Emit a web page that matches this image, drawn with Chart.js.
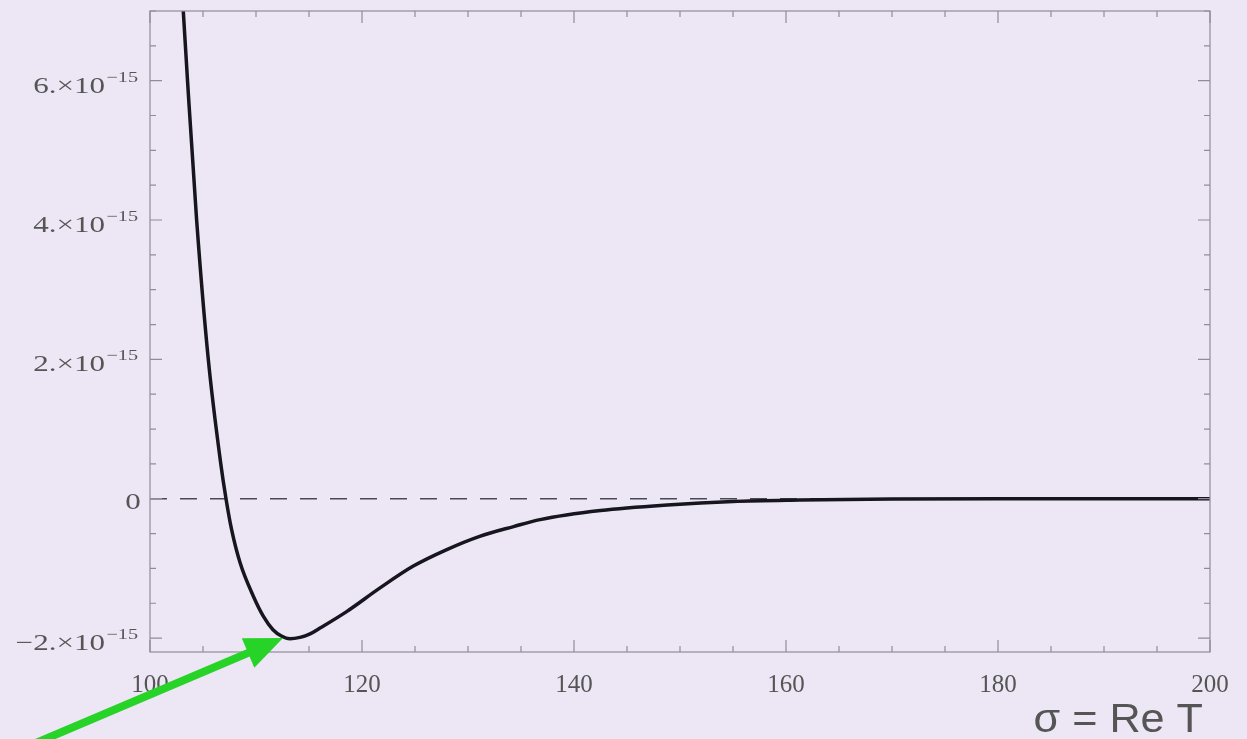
<!DOCTYPE html>
<html>
<head>
<meta charset="utf-8">
<script src="https://cdn.jsdelivr.net/npm/chart.js@4"></script>
<style>
  body { margin: 0; background: #ede7f5; }
  #wrap { width: 1247px; height: 739px; position: relative; }
</style>
</head>
<body>
<div id="wrap"><canvas id="chCurve"></canvas></div>
<script>
// curve (sigma = Re T, value)
var sigma  = [103.0, 103.54, 104.4, 105.5, 106.67, 107.17, 107.7, 108.5, 109.75, 110.7, 111.6, 112.4, 113.2, 114.15, 115.1, 116.0, 118.55, 121.7, 124.8, 128.0, 131.1, 134.3, 136.8, 142.5, 148.8, 155.0, 161.3, 170.0, 180.0, 200.0];
var values = [7.35e-15, 6.0e-15, 4.0e-15, 2.0e-15, 0.51e-15, 0, -0.445e-15, -0.92e-15, -1.40e-15, -1.69e-15, -1.88e-15, -1.97e-15, -2.01e-15, -1.99e-15, -1.94e-15, -1.86e-15, -1.62e-15, -1.28e-15, -0.97e-15, -0.73e-15, -0.54e-15, -0.40e-15, -0.30e-15, -0.17e-15, -0.09e-15, -0.04e-15, -0.02e-15, -0.005e-15, 0, 0];

// axis ticks
var xMajor = [100, 120, 140, 160, 180, 200];
var yMajor = [-2e-15, 0, 2e-15, 4e-15, 6e-15];
var yLabels = ['\u22122', '0', '2', '4', '6'];
var xRange = [100, 200];
var yRange = [-2.2e-15, 7.0e-15];
var xMinorStep = 5;
var yMinorStep = 0.5e-15;
var axisTitle = '\u03c3 = Re T';

var points = sigma.map(function(s, i) { return { x: s, y: values[i] }; });

// frame + inward ticks, y labels with superscript, axis title, green arrow
var decor = {
    id: 'decor',
    afterDraw: function(chart) {
        var c = chart.ctx, a = chart.chartArea;
        var xs = chart.scales.x, ys = chart.scales.y;
        c.save();
        c.strokeStyle = '#8f8c99';
        c.lineWidth = 1.2;
        c.strokeRect(a.left, a.top, a.right - a.left, a.bottom - a.top);

        c.beginPath();
        for (var v = xRange[0]; v <= xRange[1] + 0.001; v += xMinorStep) {
            var px = xs.getPixelForValue(v);
            var len = (v % 20 === 0) ? 12 : 6;
            c.moveTo(px, a.bottom); c.lineTo(px, a.bottom - len);
            c.moveTo(px, a.top); c.lineTo(px, a.top + len);
        }
        for (var k = -4; k * yMinorStep <= yRange[1]; k++) {
            var yv = k * yMinorStep;
            var py = ys.getPixelForValue(yv);
            if (py < a.top - 0.5 || py > a.bottom + 0.5) continue;
            var ln = (k % 4 === 0) ? 12 : 6;
            c.moveTo(a.left, py); c.lineTo(a.left + ln, py);
            c.moveTo(a.right, py); c.lineTo(a.right - ln, py);
        }
        c.stroke();

        // y tick labels (the picture's text is stretched sideways)
        c.fillStyle = '#555';
        c.textAlign = 'right';
        c.textBaseline = 'alphabetic';
        var rx = a.left - 12;
        yMajor.forEach(function(v, i) {
            var py = ys.getPixelForValue(v);
            c.save();
            c.translate(rx, py);
            c.scale(1.35, 1);
            if (v === 0) {
                c.font = '23px "Liberation Serif", serif';
                c.fillText(yLabels[i], 2, 10);
            } else {
                c.font = '15px "Liberation Serif", serif';
                var sup = '\u221215';
                var w = c.measureText(sup).width;
                c.fillText(sup, 0, 1);
                c.font = '23px "Liberation Serif", serif';
                c.fillText(yLabels[i] + '.\u00d710', -w - 1, 12);
            }
            c.restore();
        });

        // axis title
        c.font = '40px "Liberation Sans", sans-serif';
        c.fillStyle = '#555';
        c.textAlign = 'right';
        c.save();
        c.translate(a.right - 7, 732);
        c.scale(1.08, 1);
        c.fillText(axisTitle, 0, 0);
        c.restore();

        // green arrow pointing at the minimum
        var tx = xs.getPixelForValue(112.55), ty = ys.getPixelForValue(-2.0e-15);
        var bx = tx - 252, by = ty + 107;
        var ang = Math.atan2(ty - by, tx - bx);
        var hl = 38, hw = 16;
        var hx = tx - hl * Math.cos(ang), hy = ty - hl * Math.sin(ang);
        c.strokeStyle = '#27d327';
        c.fillStyle = '#27d327';
        c.lineWidth = 8;
        c.beginPath();
        c.moveTo(bx, by); c.lineTo(hx + 4 * Math.cos(ang), hy + 4 * Math.sin(ang));
        c.stroke();
        c.beginPath();
        c.moveTo(tx, ty);
        c.lineTo(hx + hw * Math.sin(ang), hy - hw * Math.cos(ang));
        c.lineTo(hx - hw * Math.sin(ang), hy + hw * Math.cos(ang));
        c.closePath();
        c.fill();
        c.restore();
    }
};

var chCurve = document.getElementById('chCurve');
if (chCurve) {
    new Chart(chCurve, {
        type: 'line',
        data: {
            datasets: [{
                data: [{ x: xRange[0], y: 0 }, { x: xRange[1], y: 0 }],
                borderColor: '#4a4852',
                borderWidth: 1.5,
                borderDash: [17, 13],
                pointRadius: 0,
                order: 2
            }, {
                data: points,
                borderColor: '#17151d',
                borderWidth: 3.5,
                cubicInterpolationMode: 'monotone',
                pointRadius: 0,
                order: 1
            }]
        },
        options: {
            responsive: true,
            maintainAspectRatio: false,
            animation: false,
            events: [],
            layout: { padding: { top: 11, right: 37, left: 0, bottom: 0 } },
            plugins: { legend: { display: false }, tooltip: { enabled: false } },
            scales: {
                x: {
                    type: 'linear',
                    min: xRange[0], max: xRange[1],
                    grid: { display: false },
                    border: { display: false },
                    afterBuildTicks: function(s) { s.ticks = xMajor.map(function(v) { return { value: v }; }); },
                    ticks: {
                        color: '#555',
                        padding: 10,
                        maxRotation: 0,
                        font: { family: '"Liberation Serif", serif', size: 25 }
                    },
                    afterFit: function(s) { s.height = 87; }
                },
                y: {
                    type: 'linear',
                    min: yRange[0], max: yRange[1],
                    grid: { display: false },
                    border: { display: false },
                    ticks: { display: false },
                    afterFit: function(s) { s.width = 150; }
                }
            }
        },
        plugins: [decor]
    });
}
</script>
</body>
</html>
